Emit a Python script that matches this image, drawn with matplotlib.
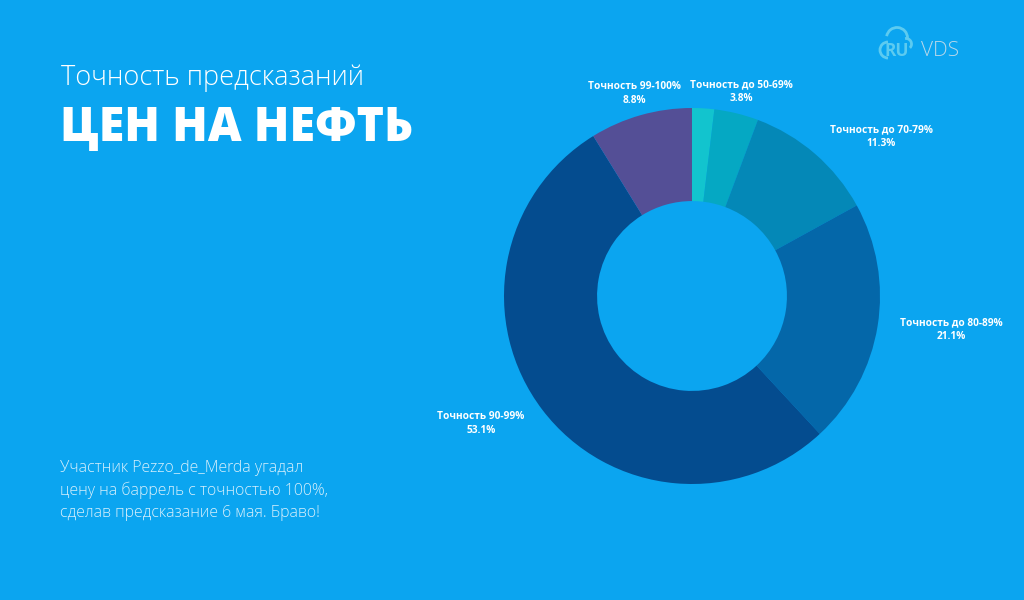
import numpy as np
import matplotlib
matplotlib.use("Agg")
import matplotlib.pyplot as plt
from matplotlib.patches import Arc

BG = "#0BA5F0"
W, H = 1024, 600

labels = ["", "Точность до 50-69%", "Точность до 70-79%", "Точность до 80-89%",
          "Точность 90-99%", "Точность 99-100%"]
shares = [1.9, 3.8, 11.3, 21.1, 53.1, 8.8]
colors = ["#12C4CE", "#05A8C3", "#0488B7", "#0467A9", "#044C8F", "#544F96"]

title_small = "Точность предсказаний"
title_big = "ЦЕН НА НЕФТЬ"
note_lines = ["Участник Pezzo_de_Merda угадал",
              "цену на баррель с точностью 100%,",
              "сделав предсказание 6 мая. Браво!"]

plt.rcParams["font.family"] = ["Open Sans", "DejaVu Sans"]

fig = plt.figure(figsize=(W / 100, H / 100), dpi=100)
fig.patch.set_facecolor(BG)

# background axes in pixel units (y measured from top via Y())
bg = fig.add_axes([0, 0, 1, 1])
bg.set_xlim(0, W)
bg.set_ylim(0, H)
bg.axis("off")


def Y(y):
    return H - y


bg.text(61, Y(78), title_small, fontsize=19.5, fontweight="light", color="white",
        va="center", ha="left")
bg.text(60, Y(129), title_big, fontsize=33.5, fontweight="heavy", color="white",
        va="center", ha="left")
for i, line in enumerate(note_lines):
    bg.text(60, Y(468 + i * 22.5), line, fontsize=11.4, fontweight="light",
            color="#D8F0FC", va="center", ha="left")

# logo
logo_c = "#5CCBF0"
bg.add_patch(Arc((888, Y(50)), 16, 16, theta1=90, theta2=270, color=logo_c, lw=2))
bg.add_patch(Arc((897, Y(38)), 21, 21, theta1=0, theta2=170, color=logo_c, lw=2))
bg.add_patch(Arc((906, Y(44)), 11, 11, theta1=-45, theta2=100, color=logo_c, lw=2))
bg.text(884, Y(51), "RU", fontsize=12.5, fontweight="bold", color=logo_c,
        va="center", ha="left")
bg.text(921, Y(51), "VDS", fontsize=15, fontweight="light", color="#B8D8EA",
        va="center", ha="left")

# donut
cx, cy, r = 692, 296, 188
ax = fig.add_axes([(cx - r) / W, (H - cy - r) / H, 2 * r / W, 2 * r / H])
ax.set_facecolor(BG)
wedges, _ = ax.pie(shares, colors=colors, startangle=90, counterclock=False,
                   wedgeprops=dict(width=0.495, linewidth=0))
ax.set_xlim(-1, 1)
ax.set_ylim(-1, 1)
ax.set_aspect("equal")

for w, lab, val in zip(wedges, labels, shares):
    if not lab:
        continue
    ang = np.deg2rad((w.theta1 + w.theta2) / 2)
    x, y = 1.12 * np.cos(ang), 1.12 * np.sin(ang)
    if abs(np.cos(ang)) < 0.4:
        ha = "center"
    else:
        ha = "left" if x > 0 else "right"
    ax.text(x, y, f"{lab}\n{val}%", ha=ha, va="center", multialignment="center",
            fontsize=7.3, fontweight="bold", color="white", linespacing=1.35,
            clip_on=False)

fig.savefig("out.png", dpi=100, facecolor=BG)
